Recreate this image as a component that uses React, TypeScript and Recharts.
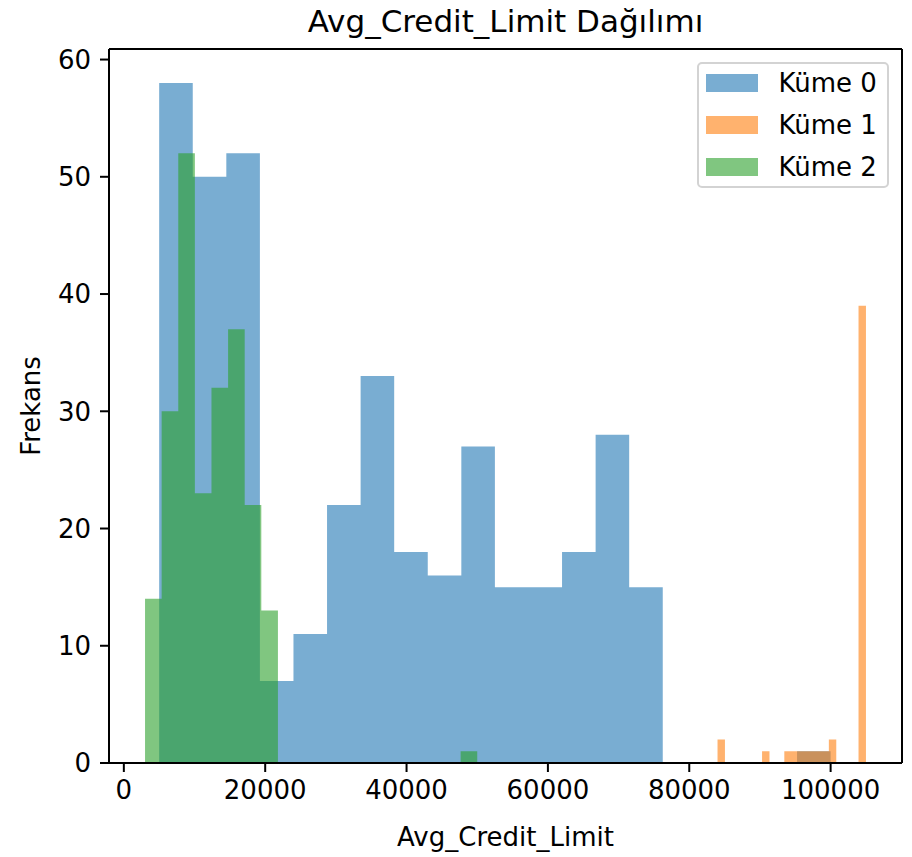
import { ComposedChart, Area, XAxis, YAxis, Legend, Label, ReferenceLine } from "recharts"

// histogram bin edges (20 bins each) and counts
const kume0Edges = [5000, 9750, 14500, 19250, 24000, 28750, 33500, 38250, 43000, 47750, 52500, 57250, 62000, 66750, 71500, 76250, 81000, 85750, 90500, 95250, 100000]
const kume0Counts = [58, 50, 52, 7, 11, 22, 33, 18, 16, 27, 15, 15, 18, 28, 15, 0, 0, 0, 0, 1]

const kume1Edges = [84000, 85050, 86100, 87150, 88200, 89250, 90300, 91350, 92400, 93450, 94500, 95550, 96600, 97650, 98700, 99750, 100800, 101850, 102900, 103950, 105000]
const kume1Counts = [2, 0, 0, 0, 0, 0, 1, 0, 0, 1, 1, 1, 1, 1, 1, 2, 0, 0, 0, 39]

const kume2Edges = [3000, 5350, 7700, 10050, 12400, 14750, 17100, 19450, 21800, 24150, 26500, 28850, 31200, 33550, 35900, 38250, 40600, 42950, 45300, 47650, 50000]
const kume2Counts = [14, 30, 52, 23, 32, 37, 22, 13, 0, 0, 0, 0, 0, 0, 0, 0, 0, 0, 0, 1]

const xTicks = [0, 20000, 40000, 60000, 80000, 100000]
const yTicks = [0, 10, 20, 30, 40, 50, 60]
const xDomain = [-2100, 110100]
const yDomain = [0, 60.9]

const colors: Record<string, string> = {
    "Küme 0": "#1f77b4",
    "Küme 1": "#ff7f0e",
    "Küme 2": "#2ca02c",
}

const font = "'DejaVu Sans', sans-serif"

// a histogram drawn as a stepAfter area: one point per left edge, plus the last right edge
function toSteps(edges: number[], counts: number[]) {
    const pts = counts.map((c, i) => ({ x: edges[i], y: c }))
    pts.push({ x: edges[edges.length - 1], y: counts[counts.length - 1] })
    return pts
}

function LegendBox(props: any) {
    const payload = props.payload || []
    return (
        <div style={{ position: "relative", width: 192, height: 126, boxSizing: "border-box", border: "2px solid #d3d3d3", borderRadius: 5, background: "rgba(255,255,255,0.8)", fontFamily: font }}>
            <div style={{ position: "absolute", top: -2, left: -2 }}>
                {payload.map((p: any) => (
                    <div key={p.value} style={{ display: "flex", alignItems: "center", height: 42 }}>
                        <div style={{ marginLeft: 9, width: 52, height: 18, background: colors[p.value], opacity: 0.6 }} />
                        <span style={{ marginLeft: 20.5, fontSize: 26, color: "#000", lineHeight: 1 }}>{p.value}</span>
                    </div>
                ))}
            </div>
        </div>
    )
}

export default function App() {
    const tick = { fontSize: 26, fill: "#000", fontFamily: font }
    const line = { stroke: "#000", strokeWidth: 2 }
    return (
        <div style={{ position: "absolute", left: 0, top: 0, width: 912, height: 857, background: "#fff" }}>
            <div style={{ position: "absolute", left: 109, width: 793, top: 3, textAlign: "center", fontFamily: font, fontSize: 31, lineHeight: "36px", color: "#000" }}>
                Avg_Credit_Limit Dağılımı
            </div>
            <ComposedChart width={912} height={857} margin={{ top: 49, right: 10, bottom: 0, left: 0 }}>
                <XAxis dataKey="x" type="number" domain={xDomain} allowDataOverflow ticks={xTicks} tick={tick} tickSize={9} tickMargin={9} tickLine={line} axisLine={line} height={94} interval={0}>
                    <Label value="Avg_Credit_Limit" position="insideBottom" offset={11} style={{ fontSize: 26, fill: "#000", fontFamily: font }} />
                </XAxis>
                <YAxis type="number" domain={yDomain} allowDataOverflow ticks={yTicks} tick={tick} tickSize={9} tickMargin={9} tickLine={line} axisLine={line} width={109} interval={0}>
                    <Label value="Frekans" angle={-90} position="insideLeft" offset={31} style={{ fontSize: 26, fill: "#000", fontFamily: font, textAnchor: "middle" }} />
                </YAxis>
                <Area name="Küme 0" data={toSteps(kume0Edges, kume0Counts)} dataKey="y" type="stepAfter" stroke="none" fill={colors["Küme 0"]} fillOpacity={0.6} isAnimationActive={false} />
                <Area name="Küme 1" data={toSteps(kume1Edges, kume1Counts)} dataKey="y" type="stepAfter" stroke="none" fill={colors["Küme 1"]} fillOpacity={0.6} isAnimationActive={false} />
                <Area name="Küme 2" data={toSteps(kume2Edges, kume2Counts)} dataKey="y" type="stepAfter" stroke="none" fill={colors["Küme 2"]} fillOpacity={0.6} isAnimationActive={false} />
                {/* top and right spines of the matplotlib frame */}
                <ReferenceLine y={yDomain[1]} stroke="#000" strokeWidth={2} ifOverflow="visible" />
                <ReferenceLine x={xDomain[1]} stroke="#000" strokeWidth={2} ifOverflow="visible" />
                <Legend content={LegendBox} layout="horizontal" verticalAlign="middle" align="center" wrapperStyle={{ left: 697, top: 62, width: 192, height: 126 }} />
            </ComposedChart>
        </div>
    )
}
